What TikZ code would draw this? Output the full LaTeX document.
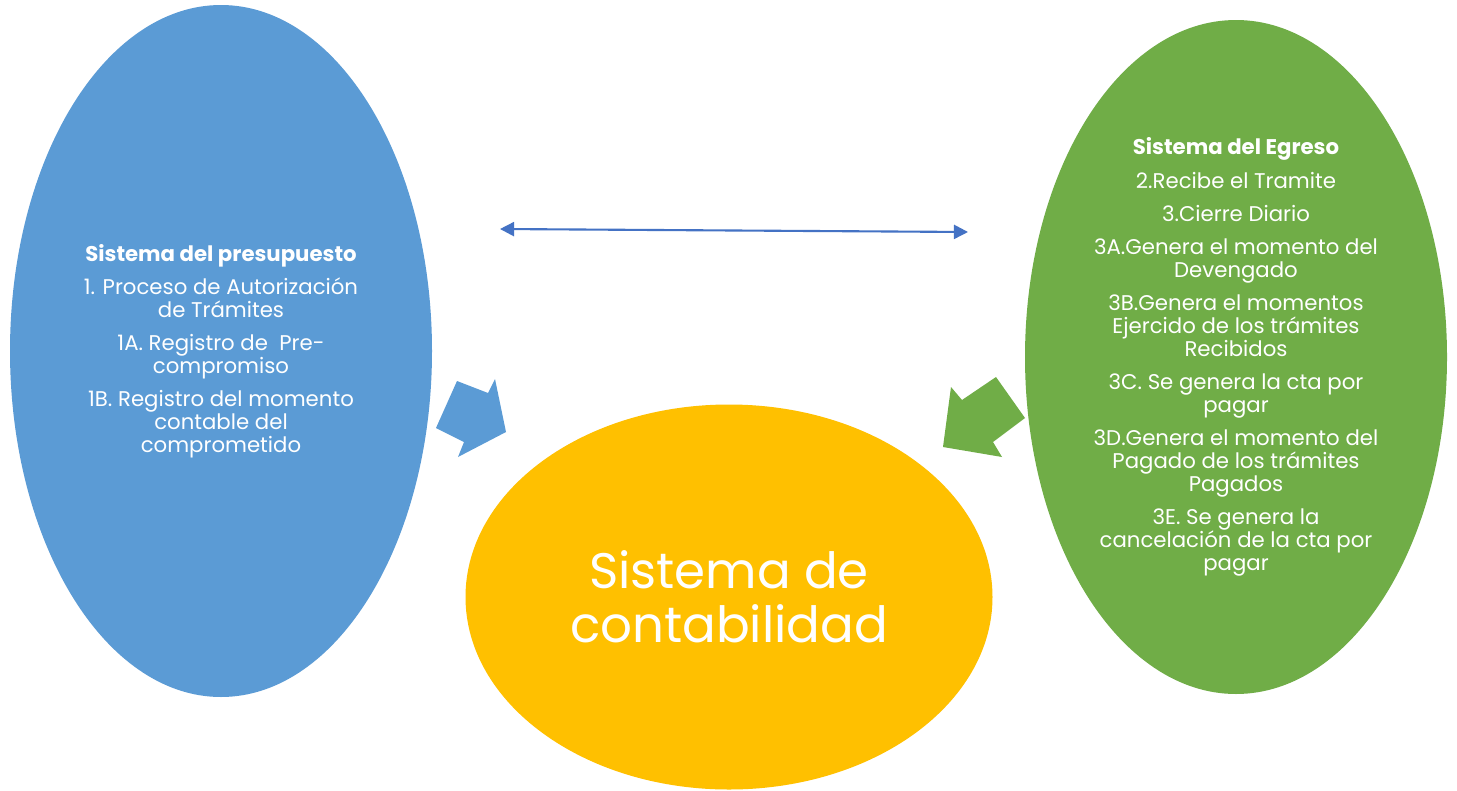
\documentclass[tikz,border=0pt]{standalone}
\usepackage{fontspec}
\setmainfont{Poppins}
\usetikzlibrary{shapes.geometric,arrows.meta}
\definecolor{cblue}{HTML}{5B9BD5}
\definecolor{cgreen}{HTML}{70AD47}
\definecolor{corange}{HTML}{FFC000}
\definecolor{carrow}{HTML}{4472C4}
\tikzset{
  bubble/.style={ellipse,inner sep=0pt,text=white,align=center},
  small/.style={font=\fontsize{12.1pt}{13.1pt}\selectfont},
  blockarrow/.style={draw=none},
}
\newcommand{\psep}{\\[5.7pt]}
\begin{document}
\begin{tikzpicture}[x=0.02cm,y=-0.02cm]
\useasboundingbox (0,0) rectangle (1457,791);
\fill[white] (0,0) rectangle (1457,791);
\node[bubble,small,fill=cblue,minimum width=422*0.02cm,minimum height=692*0.02cm] (pres) at (221,351)
 {\bfseries Sistema del presupuesto\psep
  1. Proceso de Autorización\\de Trámites\psep
  1A. Registro de \ Pre-\\compromiso\psep
  1B. Registro del momento\\contable del\\comprometido};
\node[bubble,small,fill=cgreen,minimum width=422*0.02cm,minimum height=674*0.02cm] (egr) at (1236,357)
 {\bfseries Sistema del Egreso\psep
  2.Recibe el Tramite\psep
  3.Cierre Diario\psep
  3A.Genera el momento del\\Devengado\psep
  3B.Genera el momentos\\Ejercido de los trámites\\Recibidos\psep
  3C. Se genera la cta por\\pagar\psep
  3D.Genera el momento del\\Pagado de los trámites\\Pagados\psep
  3E. Se genera la\\cancelación de la cta por\\pagar};
\node[bubble,fill=corange,minimum width=527*0.02cm,minimum height=385*0.02cm,
  font=\fontsize{28.4pt}{30.7pt}\selectfont] (cont) at (729,597)
 {Sistema de\\contabilidad};
\coordinate (la) at (500,229);
\coordinate (ra) at (968,232);
\draw[carrow,line width=1.2pt,{Triangle[length=8pt,width=8pt]}-{Triangle[length=8pt,width=8pt]}] (la) -- (ra);
\fill[cblue,blockarrow] (436,428) -- (457,381) -- (488,393) -- (495,379) -- (506,432) -- (458,457) -- (464,442) -- cycle;
\fill[cgreen,blockarrow] (1025,418) -- (996,377) -- (962,400) -- (951,387) -- (943,447) -- (1002,457) -- (993,442) -- cycle;
\end{tikzpicture}
\end{document}
